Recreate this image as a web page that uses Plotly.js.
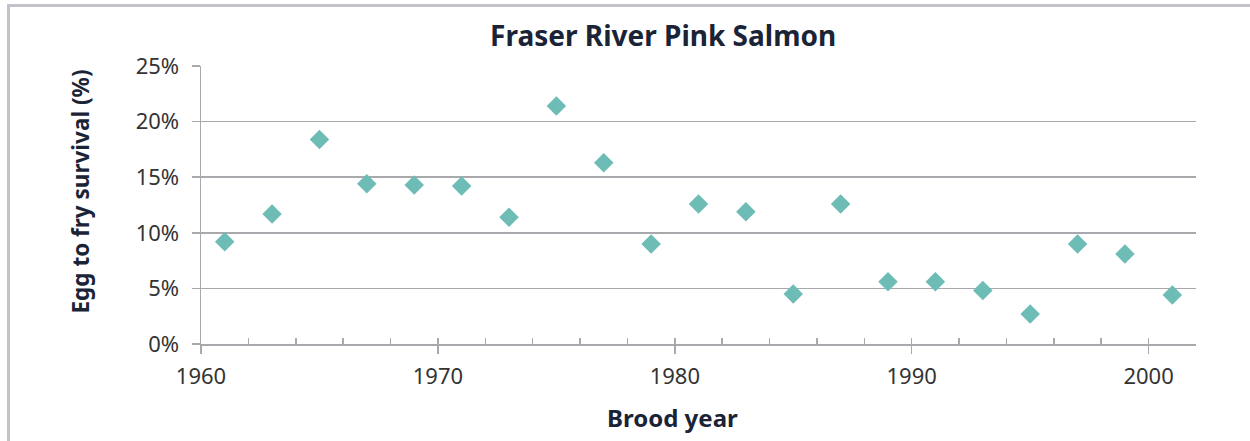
<!DOCTYPE html>
<html>
<head>
<meta charset="utf-8">
<script src="https://cdn.plot.ly/plotly-3.0.1.min.js"></script>
<style>
  html, body { margin: 0; padding: 0; background: #fff; }
  #wrap { position: relative; width: 1250px; height: 441px; overflow: hidden; }
  #chart { width: 1250px; height: 441px; }
  #frame { position: absolute; left: 7px; top: 4px; width: 1300px; height: 500px;
           border-top: 3px solid #c2c2ca; border-left: 3px solid #c2c2ca; pointer-events: none; }
</style>
</head>
<body>
<div id="wrap">
  <div id="chart"></div>
  <div id="frame"></div>
</div>
<script>
const broodYears = [1961, 1963, 1965, 1967, 1969, 1971, 1973, 1975, 1977, 1979, 1981,
                    1983, 1985, 1987, 1989, 1991, 1993, 1995, 1997, 1999, 2001];
const survivalPct = [9.2, 11.7, 18.4, 14.4, 14.3, 14.2, 11.4, 21.4, 16.3, 9.0, 12.6,
                     11.9, 4.5, 12.6, 5.6, 5.6, 4.8, 2.7, 9.0, 8.1, 4.4];
const yTicks = [0, 5, 10, 15, 20, 25];
const yTickLabels = ['0%', '5%', '10%', '15%', '20%', '25%'];
const xTicks = [1960, 1970, 1980, 1990, 2000];

const gridCol = '#a9a9ad';
const textCol = '#333333';
const navy = '#1b2336';
const baseFont = 'Noto Sans, sans-serif';

const data = [{
  type: 'scatter',
  mode: 'markers',
  x: broodYears,
  y: survivalPct,
  marker: { symbol: 'diamond', size: 15, color: '#6dbcb6', line: { width: 0 } },
  hoverinfo: 'x+y'
}, {
  // carrier for the minor-tick overlay axis (invisible)
  type: 'scatter', mode: 'markers',
  x: broodYears, y: survivalPct,
  xaxis: 'x2', yaxis: 'y',
  marker: { opacity: 0 }, hoverinfo: 'skip'
}];

const layout = {
  width: 1250, height: 441,
  margin: { l: 201, r: 54, t: 66, b: 97 },
  paper_bgcolor: '#ffffff',
  plot_bgcolor: '#ffffff',
  showlegend: false,
  font: { family: baseFont, color: textCol },
  title: {
    text: 'Fraser River Pink Salmon',
    font: { family: baseFont, size: 28, color: navy, weight: 700 },
    x: 0.5305, xanchor: 'center',
    y: 1 - 36 / 441, yanchor: 'middle', yref: 'container'
  },
  xaxis: {
    range: [1960, 2002],
    tickmode: 'array', tickvals: xTicks, ticktext: xTicks.map(String),
    ticks: 'outside', ticklen: 8, tickwidth: 1.5, tickcolor: gridCol,
    showline: true, linecolor: gridCol, linewidth: 1.5,
    showgrid: false, zeroline: false,
    tickfont: { family: baseFont, size: 22, color: textCol },
    ticklabelstandoff: 4,
    fixedrange: true
  },
  xaxis2: {
    overlaying: 'x', anchor: 'y', side: 'bottom',
    range: [1960, 2002],
    tickmode: 'linear', tick0: 1960, dtick: 2,
    ticks: 'inside', ticklen: 6, tickwidth: 1.5, tickcolor: gridCol,
    showticklabels: false, showgrid: false, showline: false, zeroline: false,
    fixedrange: true
  },
  yaxis: {
    range: [0, 25],
    tickmode: 'array', tickvals: yTicks, ticktext: yTickLabels,
    ticks: 'outside', ticklen: 8, tickwidth: 1.5, tickcolor: gridCol,
    showline: true, linecolor: gridCol, linewidth: 1.5,
    showgrid: true, gridcolor: gridCol, gridwidth: 1.5,
    zeroline: false,
    tickfont: { family: baseFont, size: 22, color: textCol },
    ticklabelstandoff: 8,
    fixedrange: true
  },
  annotations: [{
    text: 'Egg to fry survival (%)',
    xref: 'paper', yref: 'paper',
    x: (80 - 201) / 995, y: (344 - 191.5) / 278,
    xanchor: 'center', yanchor: 'middle',
    textangle: -90, showarrow: false,
    font: { family: baseFont, size: 22.5, color: navy, weight: 700 }
  }, {
    text: 'Brood year',
    xref: 'paper', yref: 'paper',
    x: (672 - 201) / 995, y: (344 - 417) / 278,
    xanchor: 'center', yanchor: 'middle',
    showarrow: false,
    font: { family: baseFont, size: 24, color: navy, weight: 700 }
  }]
};

Plotly.newPlot('chart', data, layout, { displayModeBar: false, staticPlot: true });
</script>
</body>
</html>
